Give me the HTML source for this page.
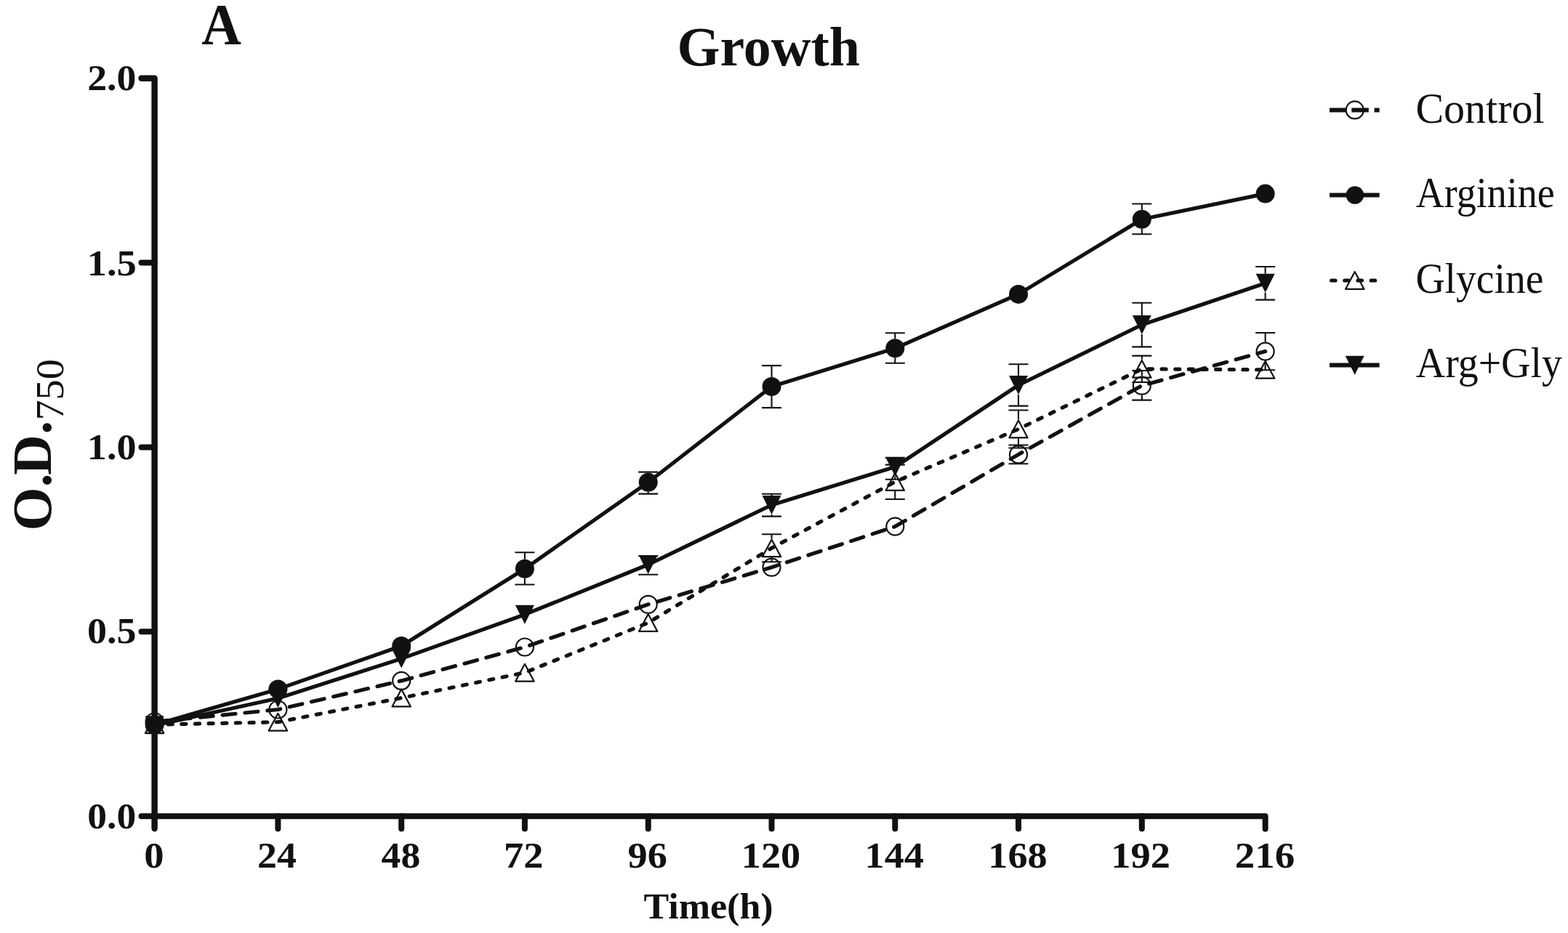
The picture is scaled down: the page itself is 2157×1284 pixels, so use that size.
<!DOCTYPE html>
<html><head><meta charset="utf-8"><title>Growth</title>
<style>html,body{margin:0;padding:0;background:#fff;}svg{display:block;}</style></head>
<body><svg width="2157" height="1284" viewBox="0 0 2157 1284" fill="#111">
<rect width="2157" height="1284" fill="#fff"/>
<path d="M1387.5 612.5H1414.5M1387.5 638.3H1414.5M1570.8 510.0V517.7M1570.8 543.7V550.6M1557.3 510.0H1584.3M1557.3 550.6H1584.3M1740.6 458.0V470.6M1740.6 496.6V509.2M1727.1 458.0H1754.1M1727.1 509.2H1754.1" fill="none" stroke="#111" stroke-width="2.1"/>
<path d="M721.9 760.3V769.8M721.9 795.8V804.5M708.4 760.3H735.4M708.4 804.5H735.4M891.7 649.6V650.7M891.7 676.7V679.6M878.2 649.6H905.2M878.2 679.6H905.2M1061.5 503.1V519.0M1061.5 545.0V561.1M1048.0 503.1H1075.0M1048.0 561.1H1075.0M1231.3 458.2V466.3M1231.3 492.3V499.7M1217.8 458.2H1244.8M1217.8 499.7H1244.8M1570.8 280.5V288.7M1570.8 314.7V322.2M1557.3 280.5H1584.3M1557.3 322.2H1584.3" fill="none" stroke="#111" stroke-width="2.1"/>
<path d="M1061.5 735.3V741.3M1061.5 767.3V773.3M1048.0 735.3H1075.0M1048.0 773.3H1075.0M1231.3 639.6V650.0M1231.3 676.0V687.0M1217.8 639.6H1244.8M1217.8 687.0H1244.8M1401.0 564.5V577.5M1401.0 603.5V616.5M1387.5 564.5H1414.5M1387.5 616.5H1414.5M1570.8 489.6V494.8M1570.8 520.8V526.0M1557.3 489.6H1584.3M1557.3 526.0H1584.3" fill="none" stroke="#111" stroke-width="2.1"/>
<path d="M891.7 790.0V790.7M878.2 765.0H905.2M878.2 790.7H905.2M1061.5 679.7V682.0M1061.5 708.0V710.6M1048.0 679.7H1075.0M1048.0 710.6H1075.0M1231.3 655.5V659.8M1217.8 629.8H1244.8M1217.8 659.8H1244.8M1401.0 501.3V517.0M1401.0 543.0V558.6M1387.5 501.3H1414.5M1387.5 558.6H1414.5M1570.8 416.8V434.0M1570.8 460.0V477.4M1557.3 416.8H1584.3M1557.3 477.4H1584.3M1740.6 367.0V376.8M1740.6 402.8V412.6M1727.1 367.0H1754.1M1727.1 412.6H1754.1" fill="none" stroke="#111" stroke-width="2.1"/>
<circle cx="212.6" cy="993.3" r="12.0" fill="none" stroke="#111" stroke-width="2.2"/>
<circle cx="382.4" cy="976.5" r="12.0" fill="none" stroke="#111" stroke-width="2.2"/>
<circle cx="552.2" cy="936.9" r="12.0" fill="none" stroke="#111" stroke-width="2.2"/>
<circle cx="721.9" cy="890.5" r="12.0" fill="none" stroke="#111" stroke-width="2.2"/>
<circle cx="891.7" cy="831.8" r="12.0" fill="none" stroke="#111" stroke-width="2.2"/>
<circle cx="1061.5" cy="780.7" r="12.0" fill="none" stroke="#111" stroke-width="2.2"/>
<circle cx="1231.3" cy="724.6" r="12.0" fill="none" stroke="#111" stroke-width="2.2"/>
<circle cx="1401.0" cy="625.4" r="12.0" fill="none" stroke="#111" stroke-width="2.2"/>
<circle cx="1570.8" cy="530.7" r="12.0" fill="none" stroke="#111" stroke-width="2.2"/>
<circle cx="1740.6" cy="483.6" r="12.0" fill="none" stroke="#111" stroke-width="2.2"/>
<path d="M212.6 985.3L225.3 1009.1H199.9Z" fill="none" stroke="#111" stroke-width="2.2" stroke-linejoin="round"/>
<path d="M382.4 981.8L395.1 1005.6H369.7Z" fill="none" stroke="#111" stroke-width="2.2" stroke-linejoin="round"/>
<path d="M552.2 948.6L564.9 972.4H539.5Z" fill="none" stroke="#111" stroke-width="2.2" stroke-linejoin="round"/>
<path d="M721.9 913.8L734.6 937.6H709.2Z" fill="none" stroke="#111" stroke-width="2.2" stroke-linejoin="round"/>
<path d="M891.7 845.1L904.4 868.9H879.0Z" fill="none" stroke="#111" stroke-width="2.2" stroke-linejoin="round"/>
<path d="M1061.5 742.4L1074.2 766.2H1048.8Z" fill="none" stroke="#111" stroke-width="2.2" stroke-linejoin="round"/>
<path d="M1231.3 651.1L1244.0 674.9H1218.6Z" fill="none" stroke="#111" stroke-width="2.2" stroke-linejoin="round"/>
<path d="M1401.0 578.6L1413.7 602.4H1388.3Z" fill="none" stroke="#111" stroke-width="2.2" stroke-linejoin="round"/>
<path d="M1570.8 495.9L1583.5 519.7H1558.1Z" fill="none" stroke="#111" stroke-width="2.2" stroke-linejoin="round"/>
<path d="M1740.6 496.9L1753.3 520.7H1727.9Z" fill="none" stroke="#111" stroke-width="2.2" stroke-linejoin="round"/>
<circle cx="212.6" cy="997.5" r="13.0" fill="#111"/>
<circle cx="382.4" cy="948.4" r="13.0" fill="#111"/>
<circle cx="552.2" cy="889.0" r="13.0" fill="#111"/>
<circle cx="721.9" cy="782.8" r="13.0" fill="#111"/>
<circle cx="891.7" cy="663.7" r="13.0" fill="#111"/>
<circle cx="1061.5" cy="532.0" r="13.0" fill="#111"/>
<circle cx="1231.3" cy="479.3" r="13.0" fill="#111"/>
<circle cx="1401.0" cy="404.9" r="13.0" fill="#111"/>
<circle cx="1570.8" cy="301.7" r="13.0" fill="#111"/>
<circle cx="1740.6" cy="266.6" r="13.0" fill="#111"/>
<path d="M199.6 985.3H225.6L212.6 1011.3Z" fill="#111"/>
<path d="M369.4 948.0H395.4L382.4 974.0Z" fill="#111"/>
<path d="M539.2 893.4H565.2L552.2 919.4Z" fill="#111"/>
<path d="M708.9 832.7H734.9L721.9 858.7Z" fill="#111"/>
<path d="M878.7 764.0H904.7L891.7 790.0Z" fill="#111"/>
<path d="M1048.5 682.0H1074.5L1061.5 708.0Z" fill="#111"/>
<path d="M1218.3 629.5H1244.3L1231.3 655.5Z" fill="#111"/>
<path d="M1388.0 517.0H1414.0L1401.0 543.0Z" fill="#111"/>
<path d="M1557.8 434.0H1583.8L1570.8 460.0Z" fill="#111"/>
<path d="M1727.6 376.8H1753.6L1740.6 402.8Z" fill="#111"/>
<polyline points="212.6,997.2 382.4,993.7 552.2,960.5 721.9,925.7 891.7,857.0 1061.5,754.3 1231.3,663.0 1401.0,590.5 1570.8,507.8 1740.6,508.8" fill="none" stroke="#111" stroke-width="5.2" stroke-dasharray="6 12.64" stroke-dashoffset="0" stroke-linecap="round" stroke-linejoin="round"/>
<polyline points="212.6,993.3 382.4,976.5 552.2,936.9 721.9,890.5 891.7,831.8 1061.5,780.7 1231.3,724.6 1401.0,625.4 1570.8,530.7 1740.6,483.6" fill="none" stroke="#111" stroke-width="5.2" stroke-dasharray="18 13" stroke-dashoffset="30.05" stroke-linecap="round" stroke-linejoin="round"/>
<polyline points="212.6,998.3 382.4,961.0 552.2,906.4 721.9,845.7 891.7,777.0 1061.5,695.0 1231.3,642.5 1401.0,530.0 1570.8,447.0 1740.6,389.8" fill="none" stroke="#111" stroke-width="5.2" stroke-linejoin="round"/>
<polyline points="212.6,997.5 382.4,948.4 552.2,889.0 721.9,782.8 891.7,663.7 1061.5,532.0 1231.3,479.3 1401.0,404.9 1570.8,301.7 1740.6,266.6" fill="none" stroke="#111" stroke-width="5.2" stroke-linejoin="round"/>
<path d="M194.5 107.7H212.6V1140.3" stroke="#111" stroke-width="8.4" stroke-linejoin="round" stroke-linecap="round" fill="none"/>
<path d="M212.6 1123.2H1740.6V1140.7" stroke="#111" stroke-width="8" stroke-linejoin="round" stroke-linecap="round" fill="none"/>
<path d="M212.6 1123.2H194.5" stroke="#111" stroke-width="8" stroke-linecap="round" fill="none"/>
<path d="M212.6 869.3H194.5" stroke="#111" stroke-width="8" stroke-linecap="round" fill="none"/>
<path d="M212.6 615.5H194.5" stroke="#111" stroke-width="8" stroke-linecap="round" fill="none"/>
<path d="M212.6 361.6H194.5" stroke="#111" stroke-width="8" stroke-linecap="round" fill="none"/>
<path d="M382.4 1123.2V1140.4" stroke="#111" stroke-width="8" stroke-linecap="round" fill="none"/>
<path d="M552.2 1123.2V1140.4" stroke="#111" stroke-width="8" stroke-linecap="round" fill="none"/>
<path d="M721.9 1123.2V1140.4" stroke="#111" stroke-width="8" stroke-linecap="round" fill="none"/>
<path d="M891.7 1123.2V1140.4" stroke="#111" stroke-width="8" stroke-linecap="round" fill="none"/>
<path d="M1061.5 1123.2V1140.4" stroke="#111" stroke-width="8" stroke-linecap="round" fill="none"/>
<path d="M1231.3 1123.2V1140.4" stroke="#111" stroke-width="8" stroke-linecap="round" fill="none"/>
<path d="M1401.0 1123.2V1140.4" stroke="#111" stroke-width="8" stroke-linecap="round" fill="none"/>
<path d="M1570.8 1123.2V1140.4" stroke="#111" stroke-width="8" stroke-linecap="round" fill="none"/>
<text transform="translate(120.26 1140.28) scale(1.045 1)" font-family="Liberation Serif, serif" font-weight="bold" font-size="51.2">0.0</text>
<text transform="translate(120.04 885.13) scale(1.055 1)" font-family="Liberation Serif, serif" font-weight="bold" font-size="51.2">0.5</text>
<text transform="translate(119.87 632.33) scale(1.0578 1)" font-family="Liberation Serif, serif" font-weight="bold" font-size="51.2">1.0</text>
<text transform="translate(119.74 378.59) scale(1.0647 1)" font-family="Liberation Serif, serif" font-weight="bold" font-size="51.2">1.5</text>
<text transform="translate(120.15 124.08) scale(1.0517 1)" font-family="Liberation Serif, serif" font-weight="bold" font-size="51.2">2.0</text>
<text transform="translate(198.32 1193.78) scale(1.0649 1)" font-family="Liberation Serif, serif" font-weight="bold" font-size="51.2">0</text>
<text transform="translate(353.94 1194.18) scale(1.0534 1)" font-family="Liberation Serif, serif" font-weight="bold" font-size="51.2">24</text>
<text transform="translate(524.56 1193.93) scale(1.0478 1)" font-family="Liberation Serif, serif" font-weight="bold" font-size="51.2">48</text>
<text transform="translate(692.93 1194.18) scale(1.0634 1)" font-family="Liberation Serif, serif" font-weight="bold" font-size="51.2">72</text>
<text transform="translate(1528.35 1194.33) scale(1.0629 1)" font-family="Liberation Serif, serif" font-weight="bold" font-size="51.2">192</text>
<text transform="translate(1698.8 1194.33) scale(1.0722 1)" font-family="Liberation Serif, serif" font-weight="bold" font-size="51.2">216</text>
<text transform="translate(931.51 90.13) scale(0.9872 1)" font-family="Liberation Serif, serif" font-weight="bold" font-size="76.86">Growth</text>
<text transform="translate(277.24 60.7) scale(0.9446 1)" font-family="Liberation Serif, serif" font-weight="bold" font-size="80.15">A</text>
<text transform="translate(885.46 1263.54) scale(1.0161 1)" font-family="Liberation Serif, serif" font-weight="bold" font-size="51.2">Time(h)</text>
<text transform="translate(890.7 1194.2) scale(1.06 1)" font-family="Liberation Serif, serif" font-weight="bold" font-size="51.2" text-anchor="middle">96</text>
<text transform="translate(1060.5 1194.2) scale(1.06 1)" font-family="Liberation Serif, serif" font-weight="bold" font-size="51.2" text-anchor="middle">120</text>
<text transform="translate(1230.3 1194.2) scale(1.06 1)" font-family="Liberation Serif, serif" font-weight="bold" font-size="51.2" text-anchor="middle">144</text>
<text transform="translate(1400.0 1194.2) scale(1.06 1)" font-family="Liberation Serif, serif" font-weight="bold" font-size="51.2" text-anchor="middle">168</text>
<text transform="translate(70.3 730.4) rotate(-90)" font-family="Liberation Serif, serif" font-weight="bold" font-size="77">O.<tspan dx="-2.4">D.</tspan></text>
<text transform="translate(86.9 578.6) rotate(-90) scale(1.044 1)" font-family="Liberation Serif, serif" font-size="54">750</text>
<text transform="translate(1947.48 168.7) scale(0.9656 1)" font-family="Liberation Serif, serif" font-weight="normal" font-size="60">Control</text>
<text transform="translate(1947.86 285.4) scale(0.8992 1)" font-family="Liberation Serif, serif" font-weight="normal" font-size="60">Arginine</text>
<text transform="translate(1947.48 402.85) scale(0.9266 1)" font-family="Liberation Serif, serif" font-weight="normal" font-size="60">Glycine</text>
<text transform="translate(1947.84 518.7) scale(0.9304 1)" font-family="Liberation Serif, serif" font-weight="normal" font-size="60">Arg+Gly</text>
<path d="M1829 151.4H1897.6" stroke="#111" stroke-width="6" stroke-dasharray="22 8.3 23.5 7.8" fill="none"/>
<circle cx="1863.7" cy="151.4" r="12.0" fill="none" stroke="#111" stroke-width="2.2"/>
<path d="M1829 268.5H1897.6" stroke="#111" stroke-width="6" fill="none"/>
<circle cx="1863.9" cy="268.5" r="12.3" fill="#111"/>
<path d="M1831.6 386.0H1893.2" stroke="#111" stroke-width="5.2" stroke-dasharray="5.4 12.8" stroke-linecap="round" fill="none"/>
<path d="M1863.7 374.0L1876.4 397.8H1851.0Z" fill="none" stroke="#111" stroke-width="2.2" stroke-linejoin="round"/>
<path d="M1829 502.6H1897.6" stroke="#111" stroke-width="6" fill="none"/>
<path d="M1850.7 489.8H1876.7L1863.7 515.8Z" fill="#111"/>
</svg></body></html>
